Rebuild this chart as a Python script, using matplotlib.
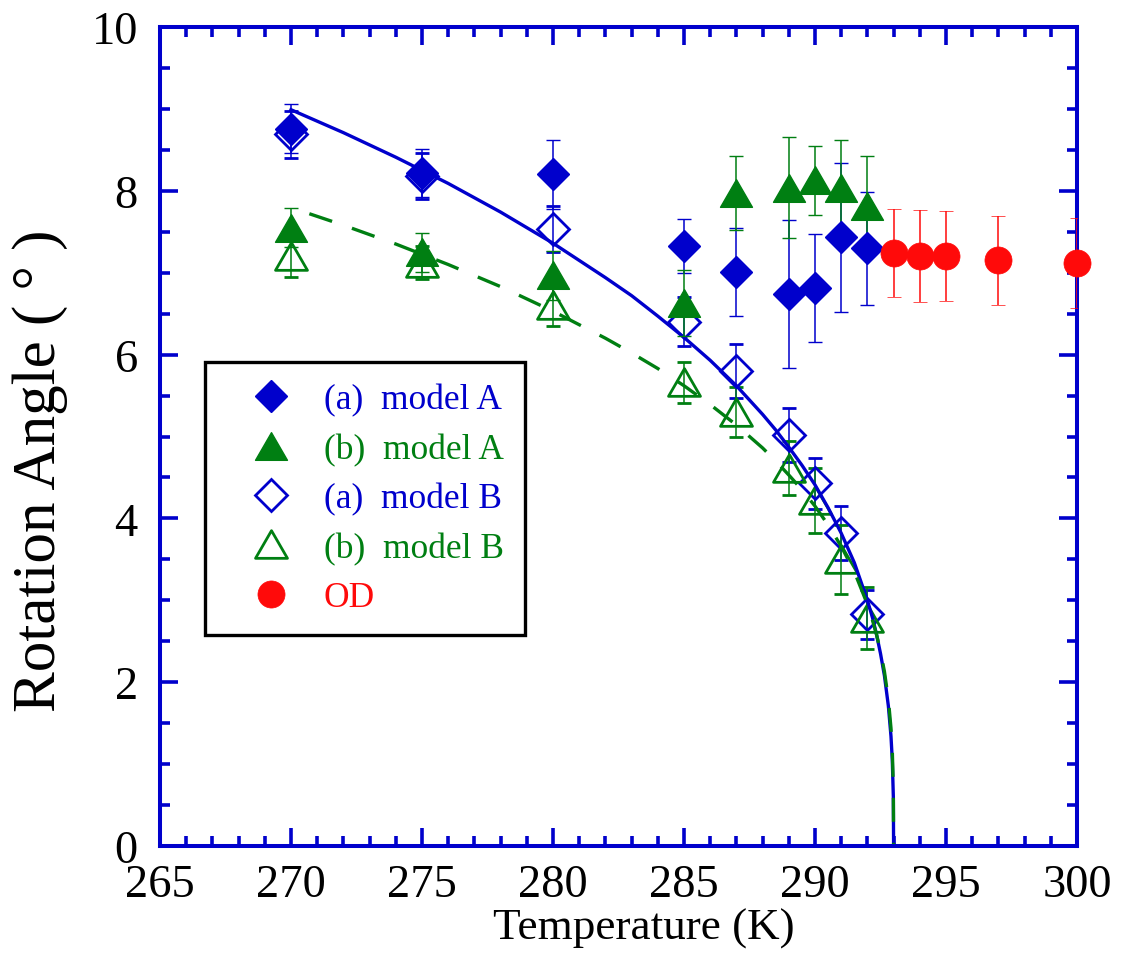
import matplotlib
matplotlib.use("Agg")
import matplotlib.pyplot as plt
from matplotlib.ticker import MultipleLocator
from matplotlib.path import Path

plt.rcParams['font.family'] = ['Liberation Serif', 'DejaVu Serif']

# ---------------- data ----------------
T_model = [270, 275, 280, 285, 287, 289, 290, 291, 292]

a_modelA = [8.76, 8.22, 8.20, 7.33, 7.01, 6.74, 6.81, 7.43, 7.30]
a_modelA_err = [0.30, 0.29, 0.42, 0.33, 0.54, 0.90, 0.66, 0.91, 0.69]

b_modelA = [7.55, 7.25, 6.97, 6.63, 7.97, 8.04, 8.13, 8.04, 7.82]
b_modelA_err = [0.24, 0.24, 0.30, 0.40, 0.45, 0.62, 0.42, 0.58, 0.60]

a_modelB = [8.69, 8.18, 7.53, 6.40, 5.80, 5.02, 4.43, 3.82, 2.83]
a_modelB_err = [0.29, 0.28, 0.28, 0.30, 0.33, 0.33, 0.31, 0.33, 0.30]

b_modelB = [7.20, 7.12, 6.61, 5.66, 5.30, 4.62, 4.22, 3.50, 2.78]
b_modelB_err = [0.25, 0.20, 0.26, 0.25, 0.31, 0.33, 0.40, 0.42, 0.38]

T_OD = [293, 294, 295, 297, 300]
OD = [7.24, 7.20, 7.20, 7.15, 7.12]
OD_err = [0.54, 0.56, 0.55, 0.54, 0.55]

# fit curves
T_fit_a = [270, 272, 274, 276, 278, 280, 282, 283, 284, 285,
           286, 287, 288, 288.5, 289, 289.5, 290, 290.5, 291, 291.5,
           292, 292.2, 292.35, 292.5, 292.65, 292.8, 292.9, 292.95, 292.99, 293]
fit_a = [8.99, 8.71, 8.41, 8.09, 7.74, 7.36, 6.94, 6.72, 6.47, 6.21,
         5.93, 5.62, 5.27, 5.08, 4.87, 4.65, 4.41, 4.13, 3.82, 3.46,
         3.00, 2.78, 2.58, 2.35, 2.08, 1.71, 1.34, 1.05, 0.60, 0.0]
T_fit_b = [270.7, 272, 274, 276, 278, 280, 282, 283, 284, 285,
           286, 287, 288, 288.5, 289, 289.5, 290, 290.5, 291, 291.5,
           292, 292.2, 292.35, 292.5, 292.65, 292.8, 292.9, 292.95, 292.99, 293]
fit_b = [7.72, 7.58, 7.35, 7.10, 6.83, 6.53, 6.20, 6.02, 5.83, 5.62,
         5.39, 5.14, 4.86, 4.70, 4.53, 4.35, 4.15, 3.92, 3.66, 3.35,
         2.95, 2.75, 2.58, 2.38, 2.13, 1.79, 1.44, 1.17, 0.71, 0.0]

labels = ['(a)  model A', '(b)  model A', '(a)  model B', '(b)  model B', 'OD']

BLUE = '#0000CC'
GREEN = '#007F12'
RED = '#FF0A0A'

# ---------------- figure ----------------
fig = plt.figure(figsize=(11.23, 9.78), dpi=100)
fig.subplots_adjust(left=160/1123, right=1077/1123, top=1-28/978, bottom=1-847/978)
ax = fig.add_subplot(111)

tri = Path([(0, 0.433), (-0.5, -0.433), (0.5, -0.433), (0, 0.433)],
           [Path.MOVETO, Path.LINETO, Path.LINETO, Path.CLOSEPOLY])
eb_kw = dict(elinewidth=1.1, capsize=4.8, capthick=1.1, linestyle='none')

hB_a = ax.errorbar(T_model, a_modelB, yerr=a_modelB_err, marker='D', ms=16.5,
                   mfc='none', mec=BLUE, mew=2.0, color=BLUE, zorder=3, **eb_kw)
hB_b = ax.errorbar(T_model, b_modelB, yerr=b_modelB_err, marker=tri, ms=23,
                   mfc='none', mec=GREEN, mew=2.0, color=GREEN, zorder=3, **eb_kw)

ax.plot(T_fit_a, fit_a, color=BLUE, lw=2.4, zorder=4)
ax.plot(T_fit_b, fit_b, color=GREEN, lw=2.4, dashes=(7.2, 6.3), zorder=4)

hA_a = ax.errorbar(T_model, a_modelA, yerr=a_modelA_err, marker='D', ms=16.5,
                   mfc=BLUE, mec=BLUE, mew=1.0, color=BLUE, zorder=5, **eb_kw)
hA_b = ax.errorbar(T_model, b_modelA, yerr=b_modelA_err, marker=tri, ms=23,
                   mfc=GREEN, mec=GREEN, mew=1.0, color=GREEN, zorder=5, **eb_kw)
hOD = ax.errorbar(T_OD, OD, yerr=OD_err, marker='o', ms=19.5,
                  mfc=RED, mec=RED, mew=0.5, color=RED, zorder=6, **eb_kw)
hOD[0].set_clip_on(False)

# ---------------- axes ----------------
ax.set_xlim(265, 300)
ax.set_ylim(0, 10)
ax.xaxis.set_major_locator(MultipleLocator(5))
ax.xaxis.set_minor_locator(MultipleLocator(1))
ax.yaxis.set_major_locator(MultipleLocator(2))
ax.yaxis.set_minor_locator(MultipleLocator(0.5))

for sp in ax.spines.values():
    sp.set_color(BLUE)
    sp.set_linewidth(2.9)
    sp.set_zorder(5.5)

ax.tick_params(which='both', direction='in', top=True, right=True,
               color=BLUE, width=2.6)
ax.tick_params(which='major', length=13)
ax.tick_params(which='minor', length=7.2)
ax.tick_params(axis='x', which='major', pad=12.5, labelsize=33.5)
ax.tick_params(axis='y', which='major', pad=16, labelsize=33.5)

ax.set_xlabel('Temperature (K)', fontsize=32.5)
ax.set_ylabel('Rotation Angle ( ° )', fontsize=44)
ax.xaxis.set_label_coords((644-160)/917, (847-909)/819)
ax.yaxis.set_label_coords((68-160)/917, (847-471)/819)

handles = [hA_a[0], hA_b[0], hB_a[0], hB_b[0], hOD[0]]
leg = ax.legend(handles, labels, loc='upper left',
                bbox_to_anchor=((205-160)/917, (847-363)/819),
                fontsize=25.5, frameon=True, fancybox=False, framealpha=1,
                edgecolor='black', borderpad=0.6, handlelength=2.5,
                handletextpad=0.25, labelspacing=0.46, borderaxespad=0,
                numpoints=1)
leg.get_frame().set_linewidth(2.4)
for txt, c in zip(leg.get_texts(), [BLUE, GREEN, BLUE, GREEN, RED]):
    txt.set_color(c)
leg.set_zorder(10)

fig.savefig('out.png', dpi=100)
